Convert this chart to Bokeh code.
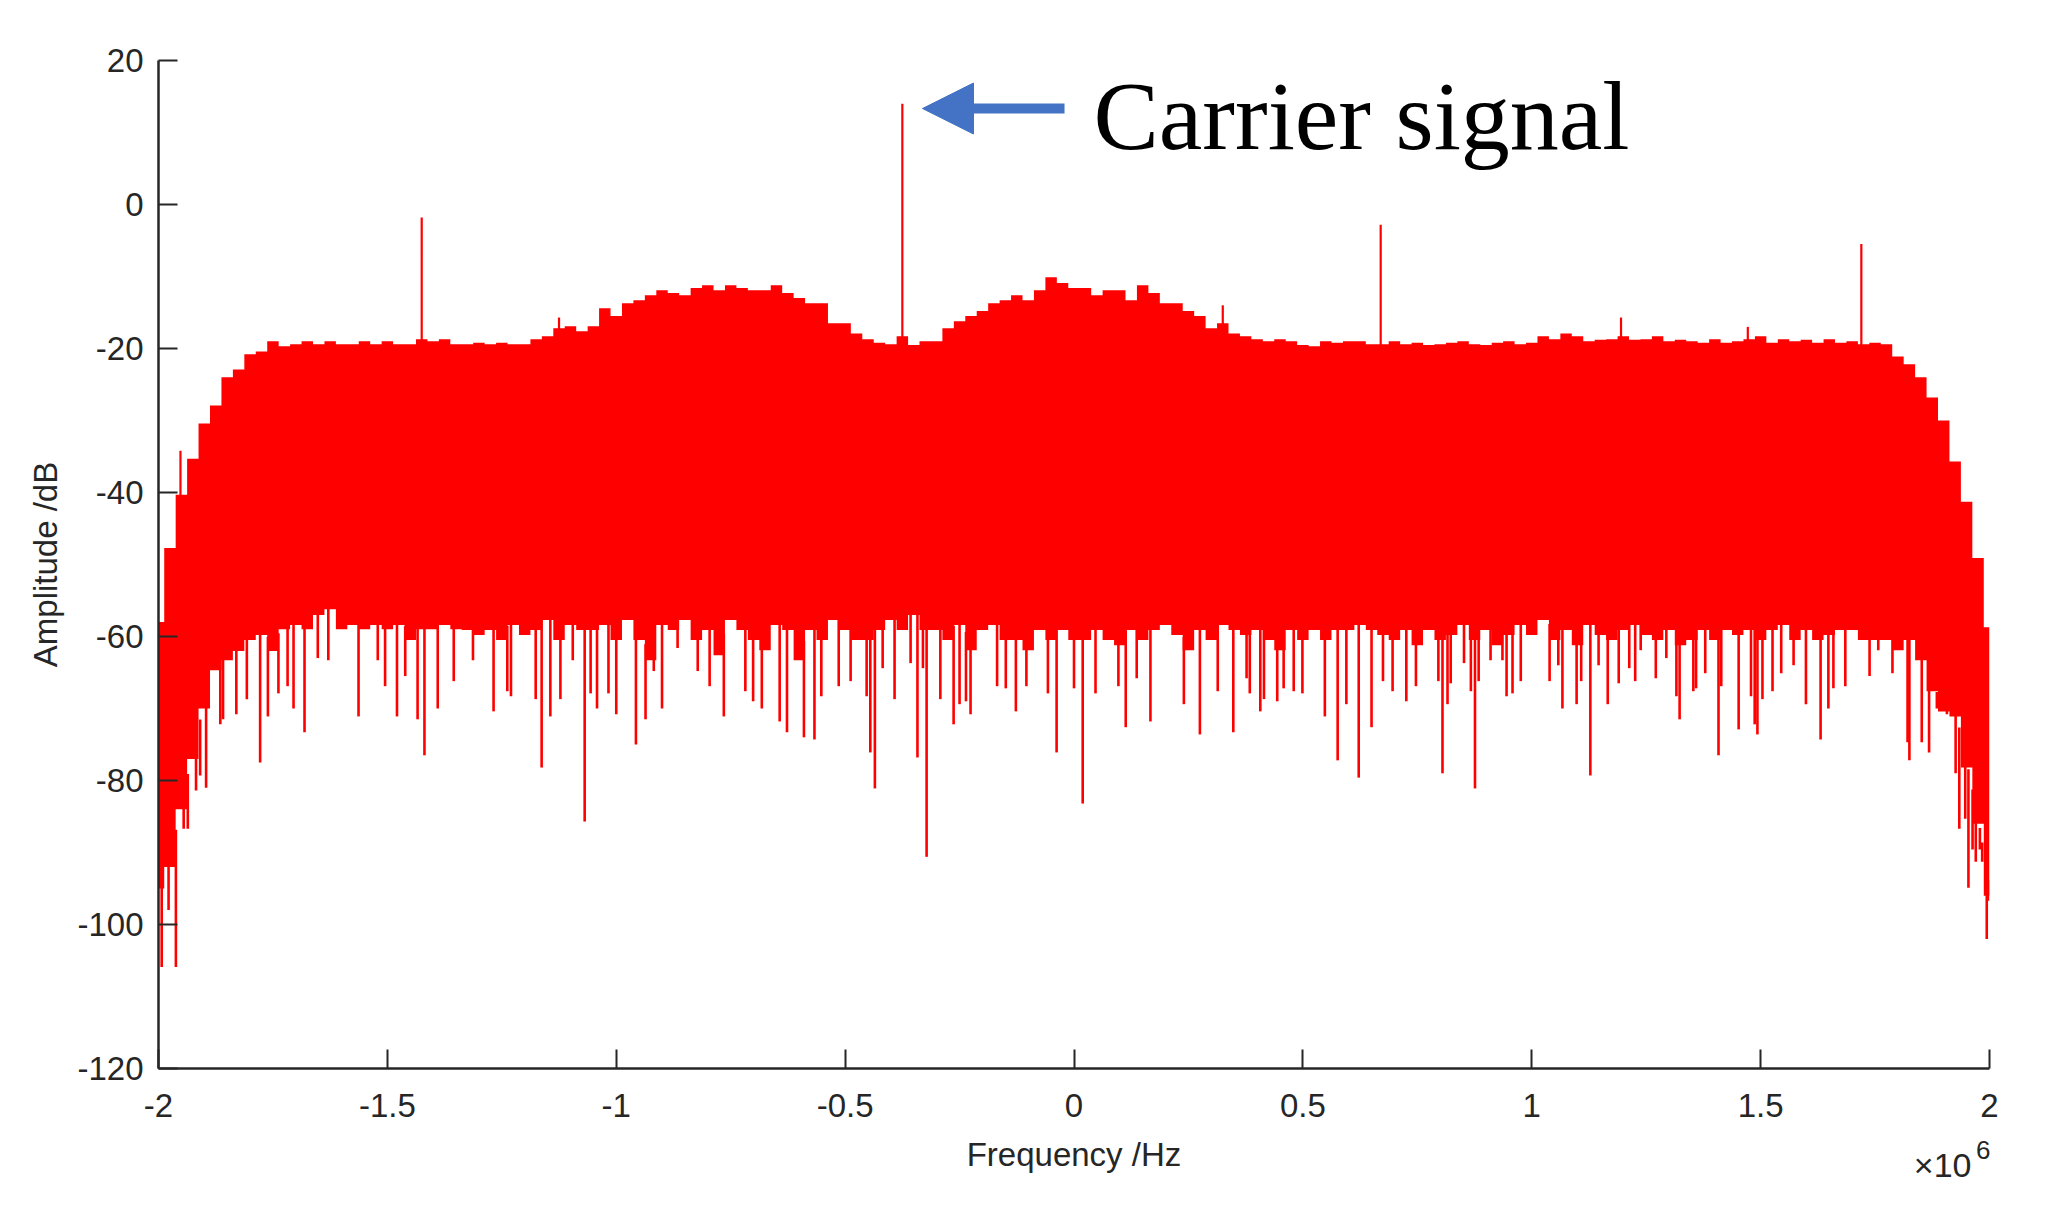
import numpy as np
from bokeh.plotting import figure
from bokeh.models import (Range1d, FixedTicker, Label, Arrow, NormalHead,
                          ColumnDataSource)
from bokeh.embed import file_html
from bokeh.resources import INLINE

# ---------------- data (frequency in units of 10^6 Hz, amplitude in dB) ----------------
freq_mhz = np.round(np.arange(-2.0, 2.0001, 0.025), 3)

upper_db = [
    -58.0, -47.7, -40.3, -35.3, -30.4, -27.9, -24.0, -22.9, -20.8, -20.4,
    -19.0, -19.7, -19.4, -19.0, -19.4, -19.0, -19.4, -19.4, -19.0, -19.4,
    -19.0, -19.4, -19.4, -18.7, -19.0, -18.7, -19.4,
    -19.4, -19.2, -19.4, -19.2, -19.4, -19.4, -18.7, -18.3, -17.2, -16.9,
    -17.6, -16.9, -14.4, -15.5, -13.7, -13.3, -12.6, -11.9, -12.3, -12.6,
    -11.6, -11.2, -11.9, -11.2, -11.6, -11.9, -11.9,
    -11.2, -12.3, -13.0, -13.7, -13.7, -16.5, -16.5, -17.9, -18.7, -19.2,
    -19.4, -18.3, -19.5, -19.0, -19.0, -17.2, -16.2, -15.5, -14.8, -13.7,
    -13.3, -12.6, -13.3, -11.9, -10.1, -10.9, -11.6,
    -11.6, -12.6, -11.9, -11.9, -13.3, -11.2, -12.3, -13.7, -13.7, -14.8,
    -15.5, -17.2, -16.5, -17.9, -18.3, -18.7, -19.0, -18.7, -19.0, -19.5,
    -19.7, -19.0, -19.2, -19.0, -19.0, -19.4,
    -19.4, -19.0, -19.4, -19.2, -19.5, -19.4, -19.2, -19.0, -19.4, -19.5,
    -19.2, -19.0, -19.4, -19.2, -18.3, -18.7, -17.9, -18.3, -19.0, -18.8,
    -18.7, -18.3, -18.8, -18.7, -18.3, -19.0, -18.8,
    -19.0, -19.2, -18.7, -19.2, -19.0, -18.7, -18.3, -19.2, -18.7, -19.0,
    -18.8, -19.2, -18.7, -19.2, -19.0, -19.4, -19.2, -19.4, -21.1, -22.2,
    -24.0, -26.8, -30.0, -35.7, -41.3, -49.1, -58.7,
]

lower_db = [
    -95.0, -92.0, -84.0, -77.0, -70.0, -64.7, -63.3, -62.0, -60.5, -59.8,
    -62.0, -59.0, -58.4, -59.0, -57.0, -56.2, -59.0, -58.4, -59.0, -58.4,
    -59.0, -58.4, -60.5, -59.0, -59.0, -58.4, -59.0,
    -59.1, -59.8, -59.1, -60.5, -58.4, -59.8, -59.1, -57.7, -60.5, -58.4,
    -59.1, -59.1, -58.4, -60.5, -57.7, -60.5, -63.3, -58.4, -59.1, -57.7,
    -60.5, -59.1, -62.6, -57.7, -59.1, -60.5, -61.9,
    -58.4, -59.1, -63.3, -59.1, -60.5, -57.7, -59.1, -60.5, -60.5, -59.1,
    -57.7, -59.1, -57.0, -59.1, -59.1, -60.5, -58.4, -61.9, -59.1, -58.4,
    -60.5, -60.5, -61.9, -59.1, -60.5, -59.1, -60.5,
    -60.5, -59.1, -60.5, -61.2, -59.1, -60.5, -59.1, -58.4, -59.8, -61.9,
    -59.1, -60.5, -58.4, -59.1, -59.8, -59.1, -60.5, -61.9, -59.1, -60.5,
    -59.1, -60.5, -59.1, -59.1, -58.4, -59.1,
    -59.8, -60.5, -59.1, -61.2, -59.1, -60.5, -59.8, -58.4, -60.5, -59.1,
    -61.2, -59.8, -58.4, -59.8, -57.7, -60.5, -59.1, -61.2, -58.4, -59.8,
    -60.5, -59.1, -58.4, -59.8, -60.5, -59.1, -61.2,
    -60.5, -59.1, -60.5, -59.1, -59.8, -59.1, -60.5, -59.1, -58.4, -60.5,
    -59.1, -60.5, -59.8, -59.1, -59.1, -60.5, -60.5, -60.5, -61.9, -60.5,
    -63.3, -67.6, -70.4, -71.1, -78.2, -86.0, -96.0,
]

# deep narrow notches below the noise floor
dip_freq = [
    -1.993, -1.978, -1.962, -1.945, -1.936, -1.918, -1.909, -1.896, -1.865, -1.859,
    -1.830, -1.807, -1.778, -1.761, -1.738, -1.718, -1.705, -1.681, -1.652, -1.629,
    -1.563, -1.521, -1.505, -1.479, -1.461, -1.434, -1.419, -1.390, -1.355,
    -1.313, -1.268, -1.238, -1.230, -1.176, -1.163, -1.144, -1.122, -1.095, -1.069,
    -1.056, -1.042, -1.017, -1.000, -0.957, -0.936, -0.918, -0.900, -0.866, -0.822,
    -0.796, -0.765, -0.718, -0.701, -0.682,
    -0.643, -0.627, -0.590, -0.567, -0.552, -0.514, -0.488, -0.453, -0.445, -0.435,
    -0.418, -0.392, -0.357, -0.342, -0.330, -0.322, -0.292, -0.263, -0.250, -0.236,
    -0.226, -0.168, -0.149, -0.127, -0.104, -0.057, -0.038, 0.000,
    0.019, 0.047, 0.097, 0.113, 0.137, 0.167, 0.240, 0.275, 0.314, 0.348,
    0.377, 0.384, 0.407, 0.415, 0.444, 0.458, 0.480, 0.499, 0.548, 0.576,
    0.595, 0.622, 0.650,
    0.675, 0.696, 0.726, 0.747, 0.796, 0.805, 0.816, 0.823, 0.852, 0.867,
    0.876, 0.884, 0.910, 0.936, 0.945, 0.958, 0.976, 1.039, 1.058, 1.067,
    1.098, 1.108, 1.128, 1.146, 1.166, 1.190, 1.213, 1.226, 1.238, 1.271,
    1.294, 1.316, 1.323,
    1.353, 1.359, 1.379, 1.408, 1.414, 1.452, 1.479, 1.487, 1.493, 1.504,
    1.526, 1.545, 1.572, 1.599, 1.631, 1.648, 1.659, 1.685, 1.738, 1.757,
    1.788, 1.821, 1.825, 1.852, 1.868, 1.885, 1.907, 1.926, 1.934, 1.947,
    1.954, 1.963, 1.970, 1.979, 1.984, 1.994, 1.997,
]
dip_db = [
    -105.9, -98.0, -105.9, -86.7, -86.7, -81.4, -79.3, -81.0, -72.2, -71.5,
    -70.8, -68.7, -77.5, -71.1, -67.9, -66.9, -70.0, -73.3, -63.0, -63.3,
    -71.1, -63.3, -66.9, -71.1, -65.5, -71.5, -76.5, -70.0, -66.2,
    -63.3, -70.4, -67.6, -68.3, -68.7, -78.2, -71.1, -68.7, -63.3, -85.7,
    -67.9, -70.0, -67.9, -70.8, -75.0, -71.5, -64.8, -70.0, -61.6, -64.8,
    -66.9, -71.1, -67.6, -69.0, -70.0,
    -71.8, -73.3, -74.0, -74.3, -68.3, -66.9, -66.2, -68.3, -76.1, -81.1,
    -64.4, -68.7, -63.7, -76.8, -64.4, -90.6, -68.7, -72.2, -69.4, -69.0,
    -70.8, -66.9, -67.2, -70.4, -66.9, -67.9, -76.1, -67.2,
    -83.2, -67.9, -66.9, -72.6, -65.8, -71.8, -69.4, -73.6, -67.6, -73.3,
    -65.8, -67.9, -70.4, -68.7, -69.0, -67.2, -67.6, -67.9, -71.1, -77.2,
    -69.4, -79.6, -72.6,
    -66.2, -67.6, -69.0, -66.9, -66.2, -79.0, -69.4, -66.5, -63.7, -67.6,
    -81.1, -66.2, -63.3, -63.3, -68.3, -67.9, -66.2, -66.2, -64.0, -70.0,
    -69.4, -66.2, -79.3, -64.0, -69.4, -66.5, -64.4, -66.2, -61.9, -65.8,
    -63.0, -68.3, -71.5,
    -67.6, -67.2, -65.1, -76.5, -66.9, -72.9, -68.3, -72.2, -73.6, -68.7,
    -67.6, -65.1, -64.0, -69.4, -74.3, -70.0, -67.2, -66.9, -65.5, -61.9,
    -65.1, -74.7, -77.2, -74.7, -76.1, -70.0, -70.8, -79.0, -86.7, -85.3,
    -94.9, -89.6, -91.3, -89.6, -91.3, -102.0, -96.7,
]

# discrete tones (carrier and spurs)
tone_freq = [-1.952, -1.425, -1.125, -0.375, 0.325, 0.670, 1.195, 1.472, 1.720]
tone_db = [-34.2, -1.8, -15.7, 14.0, -14.0, -2.8, -15.7, -17.0, -5.5]

x_ticks = [-2, -1.5, -1, -0.5, 0, 0.5, 1, 1.5, 2]
x_tick_labels = ["-2", "-1.5", "-1", "-0.5", "0", "0.5", "1", "1.5", "2"]
y_ticks = [-120, -100, -80, -60, -40, -20, 0, 20]
y_tick_labels = ["-120", "-100", "-80", "-60", "-40", "-20", "0", "20"]

# ---------------- figure ----------------
RED = "#ff0000"
AX = "#262626"
SANS = "Liberation Sans"

p = figure(frame_width=1831, frame_height=1008, output_backend="svg",
           toolbar_location=None,
           x_range=Range1d(-2, 2), y_range=Range1d(-120, 20),
           min_border_left=158, min_border_right=60,
           min_border_top=60, min_border_bottom=140)
p.outline_line_color = None
p.xgrid.visible = False
p.ygrid.visible = False
p.background_fill_color = "white"
p.border_fill_color = "white"

src = ColumnDataSource(dict(freq=freq_mhz, upper=upper_db, lower=lower_db))
p.varea_step(x="freq", y1="lower", y2="upper", step_mode="center",
             source=src, fill_color=RED, fill_alpha=1.0)

dip_src = ColumnDataSource(dict(
    x=dip_freq, y0=np.interp(dip_freq, freq_mhz, lower_db) + 1.0, y1=dip_db))
p.segment(x0="x", y0="y0", x1="x", y1="y1", source=dip_src,
          line_color=RED, line_width=2.6)

tone_src = ColumnDataSource(dict(
    x=tone_freq, y0=np.interp(tone_freq, freq_mhz, upper_db) - 2.0, y1=tone_db))
p.segment(x0="x", y0="y0", x1="x", y1="y1", source=tone_src,
          line_color=RED, line_width=2.2)

# axes
for ax in (p.xaxis[0], p.yaxis[0]):
    ax.axis_line_color = AX
    ax.axis_line_width = 2.5
    ax.major_tick_line_color = AX
    ax.major_tick_line_width = 2
    ax.major_tick_in = 19
    ax.major_tick_out = 0
    ax.minor_tick_line_color = None
    ax.major_label_text_font = SANS
    ax.major_label_text_font_size = "33px"
    ax.major_label_text_color = AX
    ax.axis_label_text_font = SANS
    ax.axis_label_text_font_size = "33px"
    ax.axis_label_text_font_style = "normal"
    ax.axis_label_text_color = AX

p.xaxis.ticker = FixedTicker(ticks=x_ticks)
p.xaxis.major_label_overrides = {t: l for t, l in zip(x_ticks, x_tick_labels)}
p.yaxis.ticker = FixedTicker(ticks=y_ticks)
p.yaxis.major_label_overrides = {t: l for t, l in zip(y_ticks, y_tick_labels)}
p.xaxis.major_label_standoff = 25
p.yaxis.major_label_standoff = 15
p.xaxis.axis_label = "Frequency /Hz"
p.yaxis.axis_label = "Amplitude /dB"
p.xaxis.axis_label_standoff = 16
p.yaxis.axis_label_standoff = 10

# x10^6 exponent label (placed in the side panel so it is not clipped by the frame)
p.add_layout(Label(x=2, y=-133.4, x_offset=-18, text="\u00d710", text_align="right",
                   text_baseline="middle", text_font=SANS,
                   text_font_size="34px", text_color=AX), "below")
p.add_layout(Label(x=2, y=-131.3, x_offset=1, text="6", text_align="right",
                   text_baseline="middle", text_font=SANS,
                   text_font_size="26px", text_color=AX), "below")

# annotation: arrow + text
BLUE = "#4472c4"
p.add_layout(Arrow(end=NormalHead(size=51, fill_color=BLUE, line_color=BLUE, line_width=1),
                   x_start=-0.0207, y_start=13.33, x_end=-0.331, y_end=13.33,
                   line_color=BLUE, line_width=10))
p.add_layout(Label(x=0.0426, y=12.36, text="Carrier signal", text_align="left",
                   text_baseline="middle", text_font="Liberation Serif",
                   text_font_size="98px", text_color="black"))

open("out.html", "w").write(file_html(p, INLINE))
